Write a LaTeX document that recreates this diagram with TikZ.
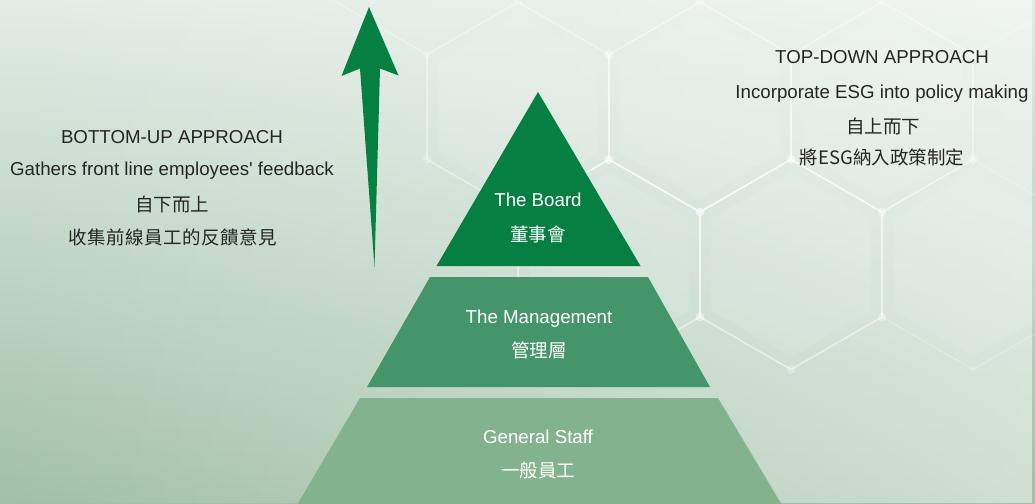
\documentclass[tikz,border=0pt]{standalone}
\usepackage{fontspec}
\setmainfont{Liberation Sans}
\newfontfamily\cjk{Noto Sans CJK TC}
\usetikzlibrary{fadings}
\definecolor{board}{RGB}{5,128,66}
\definecolor{mgmt}{RGB}{69,149,106}
\definecolor{staff}{RGB}{131,179,142}
\definecolor{txt}{RGB}{38,38,38}
\definecolor{bgtop}{RGB}{226,236,229}
\definecolor{bgbot}{RGB}{160,192,168}
\tikzfading[name=fadeleft, left color=transparent!100, right color=transparent!0]
\begin{document}
\begin{tikzpicture}[x=1pt,y=-1pt,
  lbl/.style={font=\fontsize{18.7}{22}\selectfont, text=txt, inner sep=0pt, text height=13.4pt, text depth=0pt, anchor=center},
  clbl/.style={font=\cjk\fontsize{18.5}{22}\selectfont, text=txt, inner sep=0pt, text height=14pt, text depth=0pt, anchor=center},
  wht/.style={text=white},
  hexline/.style={draw=white, line width=1.4pt},
  hexdot/.style={fill=white},
  tier/.style={draw=none}
]
% background
\useasboundingbox (0,0) rectangle (1035,503);
\shade[top color=bgtop, bottom color=bgbot] (0,0) rectangle (1035,503);
\fill[white, path fading=fadeleft, fill opacity=0.5] (0,0) rectangle (1035,503);

% honeycomb (faint decorative hexagons)
\foreach \cx/\cy/\op in {518/107/0.45, 700/107/0.55, 882/107/0.45,
                         609/264.5/0.55, 791/264.5/0.55, 973/264.5/0.25}{
  \draw[hexline, draw opacity=\op] ([shift={(\cx,\cy)}]90:105) -- ([shift={(\cx,\cy)}]150:105) -- ([shift={(\cx,\cy)}]210:105) -- ([shift={(\cx,\cy)}]270:105) -- ([shift={(\cx,\cy)}]330:105) -- ([shift={(\cx,\cy)}]30:105) -- cycle;
  \fill[white, fill opacity=0.1] ([shift={(\cx,\cy)}]90:92) -- ([shift={(\cx,\cy)}]150:92) -- ([shift={(\cx,\cy)}]210:92) -- ([shift={(\cx,\cy)}]270:92) -- ([shift={(\cx,\cy)}]330:92) -- ([shift={(\cx,\cy)}]30:92) -- cycle;
  \foreach \a in {30,90,...,330}{\fill[hexdot, fill opacity=0.5*\op] ([shift={(\cx,\cy)}]\a:105) circle (4.5);}
}
\coordinate (hx1) at (336,2); \coordinate (hx2) at (427,54.5);
\coordinate (hx3) at (973,54.5); \coordinate (hx4) at (1064,2);
\draw[hexline, draw opacity=0.35] (hx1) -- (hx2);
\draw[hexline, draw opacity=0.3] (hx3) -- (hx4);

% pyramid tiers
\coordinate (b1) at (538,92);  \coordinate (b2) at (640.5,266); \coordinate (b3) at (436.5,266);
\coordinate (m1) at (430,277); \coordinate (m2) at (648,277); \coordinate (m3) at (710,387); \coordinate (m4) at (367,387);
\coordinate (s1) at (360,398); \coordinate (s2) at (718,398); \coordinate (s3) at (782,505); \coordinate (s4) at (297,505);
\fill[board] (b1) -- (b2) -- (b3) -- cycle;
\fill[mgmt] (m1) -- (m2) -- (m3) -- (m4) -- cycle;
\fill[staff] (s1) -- (s2) -- (s3) -- (s4) -- cycle;

% arrow
\coordinate (at) at (369,7);
\coordinate (ar) at (398.5,75.5);
\coordinate (ari) at (380,68.5);
\coordinate (ab) at (374.5,267);
\coordinate (ali) at (360,68.5);
\coordinate (al) at (341.5,76);
\fill[board] (at) -- (ar) -- (ari) -- (ab) -- (ali) -- (al) -- cycle;

% pyramid labels
\node[lbl,wht] (boardE) at (538,199.5) {The Board};
\node[clbl,wht] (boardC) at (538,234) {董事會};
\node[lbl,wht] (mgmtE) at (539,316.7) {The Management};
\node[clbl,wht] (mgmtC) at (539,350.5) {管理層};
\node[lbl,wht] (staffE) at (538,436.3) {General Staff};
\node[clbl,wht] (staffC) at (538,470.8) {一般員工};

% left text
\node[lbl] (buT) at (172,136.7) {BOTTOM-UP APPROACH};
\node[lbl] (buE) at (172,169.2) {\addfontfeatures{Ligatures=TeXOff}Gathers front line employees' feedback};
\node[clbl] (buC1) at (172,204.5) {自下而上};
\node[clbl] (buC2) at (173,237.5) {\addfontfeature{LetterSpace=2.5}收集前線員工的反饋意見};

% right text
\node[lbl] (tdT) at (882,57) {TOP-DOWN APPROACH};
\node[lbl] (tdE) at (882,91.7) {Incorporate ESG into policy making};
\node[clbl] (tdC1) at (883,126) {自上而下};
\node[clbl] (tdC2) at (882,157.8) {將ESG納入政策制定};
\end{tikzpicture}
\end{document}
